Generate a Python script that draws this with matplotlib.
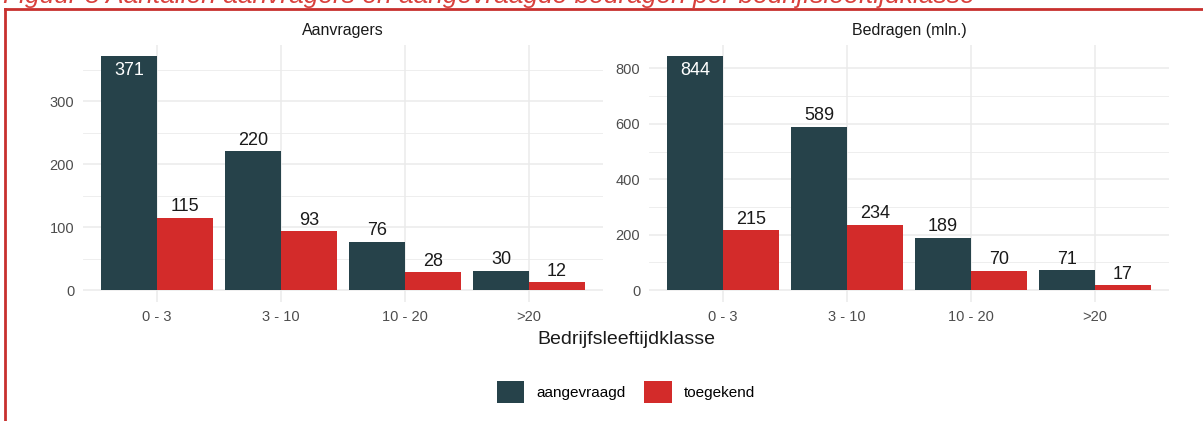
import numpy as np
import matplotlib
matplotlib.use("Agg")
from matplotlib import pyplot as plt
from matplotlib.patches import Patch
from matplotlib.lines import Line2D

plt.rcParams["font.family"] = ["Liberation Sans", "DejaVu Sans"]

# data
klassen = ["0 - 3", "3 - 10", "10 - 20", ">20"]
aanvragers_aangevraagd = [371, 220, 76, 30]
aanvragers_toegekend = [115, 93, 28, 12]
bedragen_aangevraagd = [844, 589, 189, 71]
bedragen_toegekend = [215, 234, 70, 17]
panel_titles = ["Aanvragers", "Bedragen (mln.)"]
series_names = ["aangevraagd", "toegekend"]

DARK = "#26424A"
RED = "#D32B2A"
GRID = "#EBEBEB"
W, H = 1203, 421

fig = plt.figure(figsize=(W / 100, H / 100), dpi=100)


def px_axes(x0, y0, x1, y1):
    # pixel box (top-left origin) -> figure fraction
    return fig.add_axes([x0 / W, 1 - y1 / H, (x1 - x0) / W, (y1 - y0) / H])


def draw_panel(ax, a, t, title, major, minor):
    x = np.arange(len(klassen))
    bw = 0.45
    ymax = max(a + t)
    ax.set_xlim(-0.6, len(klassen) - 0.4)
    ax.set_ylim(-0.05 * ymax, 1.05 * ymax)
    ax.set_yticks(major)
    ax.set_yticks(minor, minor=True)
    ax.set_xticks(x)
    ax.set_xticklabels(klassen)
    ax.grid(True, which="major", color=GRID, lw=1.1, zorder=0)
    ax.grid(True, which="minor", axis="y", color=GRID, lw=0.6, zorder=0)
    ax.set_axisbelow(True)
    for s in ax.spines.values():
        s.set_visible(False)
    ax.tick_params(which="both", length=0, labelsize=10.5, labelcolor="#4D4D4D", pad=6)
    ax.bar(x - bw / 2, a, bw, color=DARK, zorder=2)
    ax.bar(x + bw / 2, t, bw, color=RED, zorder=2)
    for xi, v in zip(x - bw / 2, a):
        if v == ymax:
            ax.annotate(str(v), (xi, v), xytext=(0, -4), textcoords="offset points",
                        ha="center", va="top", fontsize=13, color="white")
        else:
            ax.annotate(str(v), (xi, v), xytext=(0, 2), textcoords="offset points",
                        ha="center", va="bottom", fontsize=13, color="#1A1A1A")
    for xi, v in zip(x + bw / 2, t):
        ax.annotate(str(v), (xi, v), xytext=(0, 2), textcoords="offset points",
                    ha="center", va="bottom", fontsize=13, color="#1A1A1A")
    ax.set_title(title, fontsize=11.5, color="#1A1A1A", pad=7)


ax1 = px_axes(82.6, 44.6, 603.4, 301.7)
draw_panel(ax1, aanvragers_aangevraagd, aanvragers_toegekend, panel_titles[0],
           [0, 100, 200, 300], [50, 150, 250, 350])
ax2 = px_axes(648.6, 44.6, 1169.4, 301.7)
draw_panel(ax2, bedragen_aangevraagd, bedragen_toegekend, panel_titles[1],
           [0, 200, 400, 600, 800], [100, 300, 500, 700])

fig.text(626 / W, 1 - 339 / H, "Bedrijfsleeftijdklasse", ha="center", va="center",
         fontsize=14, color="#1A1A1A")

handles = [Patch(facecolor=DARK, edgecolor="none"), Patch(facecolor=RED, edgecolor="none")]
fig.legend(handles, series_names, loc="center", bbox_to_anchor=(626 / W, 1 - 392 / H),
           ncol=2, frameon=False, fontsize=11, handlelength=1.8, handleheight=1.8,
           handletextpad=0.8, columnspacing=1.2)

# red frame around the figure, plus the clipped caption above it
fig.add_artist(Line2D([5 / W, 5 / W], [0, 1 - 9 / H], color="#C8302E", lw=2))
fig.add_artist(Line2D([5 / W, 1], [1 - 9 / H, 1 - 9 / H], color="#C8302E", lw=2))
fig.text(3 / W, 1 - 3.5 / H,
         "Figuur 5 Aantallen aanvragers en aangevraagde bedragen per bedrijfsleeftijdklasse",
         ha="left", va="baseline", fontsize=19, style="italic", color="#D9403C")

fig.savefig("out.png", dpi=100)
